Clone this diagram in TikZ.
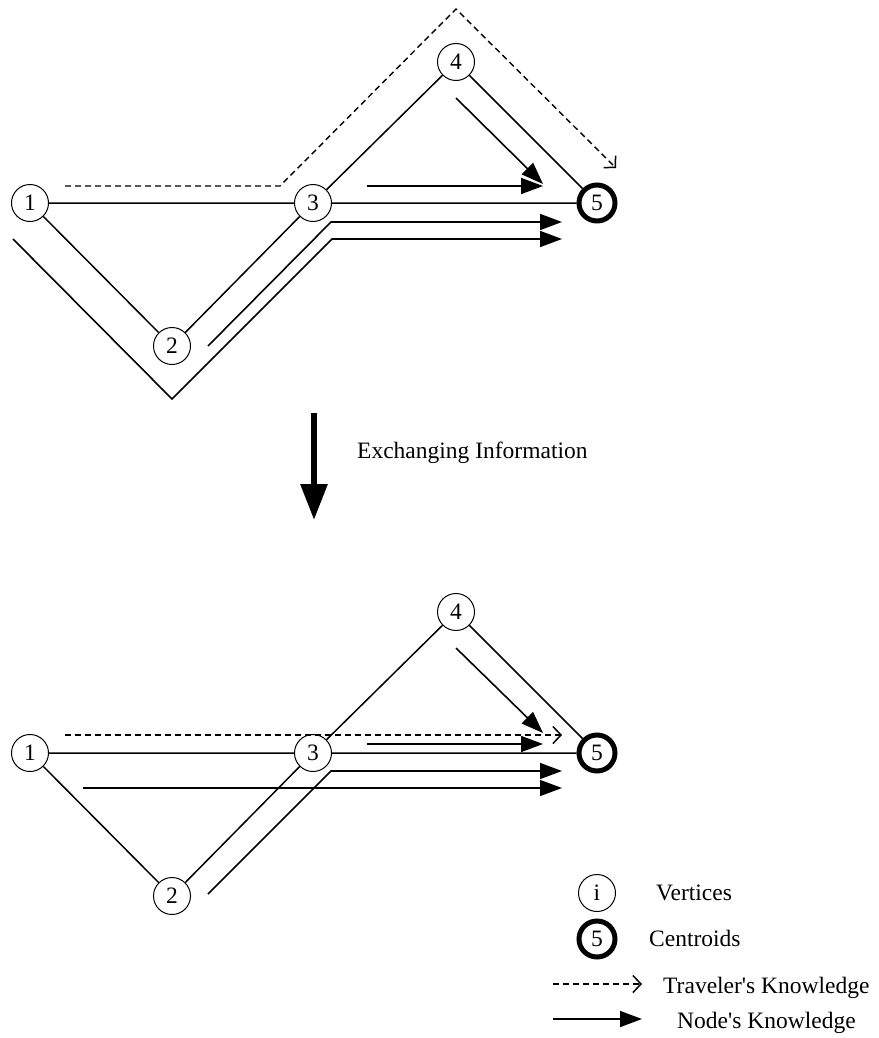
\documentclass[tikz,border=0pt]{standalone}
\usepackage{fontspec}
\setmainfont{Liberation Serif}
\usetikzlibrary{arrows.meta}
\begin{document}
\begin{tikzpicture}[x=1pt,y=-1pt,
  every node/.style={font=\fontsize{23.5}{28}\selectfont},
  vtx/.style={circle,draw,line width=1pt,minimum size=37pt,inner sep=0pt},
  cen/.style={circle,draw,line width=5pt,minimum size=36pt,inner sep=0pt},
  edge/.style={line width=1.5pt},
  trav/.style={line width=1.4pt,dash pattern=on 6pt off 4pt,-{Straight Barb[length=8pt,width=17pt,line width=1.5pt]}},
  know/.style={line width=1.6pt,-{Triangle[length=22pt,width=16pt]}}]
\useasboundingbox (0,0) rectangle (878,1038);
% ---------- top graph ----------
\node[vtx] (t1) at (30,203) {1};
\node[vtx] (t2) at (172,346) {2};
\node[vtx] (t3) at (313,203) {3};
\node[vtx] (t4) at (456,62) {4};
\node[cen] (t5) at (597,203) {5};
\draw[edge] (t1)--(t3) (t1)--(t2) (t2)--(t3) (t3)--(t4) (t4)--(t5) (t3)--(t5);
\coordinate (tr0) at (65,186);
\coordinate (tr1) at (280,186);
\coordinate (tr2) at (456,9);
\coordinate (tr3) at (616,168);
\draw[trav] (tr0)--(tr1)--(tr2)--(tr3);
\coordinate (ta0) at (456,98);
\coordinate (ta1) at (543,184);
\draw[know] (ta0)--(ta1);
\coordinate (tb0) at (367,186);
\coordinate (tb1) at (543,186);
\draw[know] (tb0)--(tb1);
\coordinate (tc0) at (208,346);
\coordinate (tc1) at (331,222);
\coordinate (tc2) at (562,222);
\draw[know] (tc0)--(tc1)--(tc2);
\coordinate (te0) at (13,239);
\coordinate (te1) at (172,399);
\coordinate (te2) at (332,239);
\coordinate (te3) at (562,239);
\draw[know] (te0)--(te1)--(te2)--(te3);
% ---------- exchange arrow ----------
\coordinate (x0) at (314,413);
\coordinate (x1) at (314,520);
\draw[line width=6pt,-{Triangle[length=36pt,width=26pt]}] (x0)--(x1);
\node[anchor=base west,inner sep=0pt] (xl) at (357,458) {Exchanging Information};
% ---------- bottom graph ----------
\node[vtx] (b1) at (30,753) {1};
\node[vtx] (b2) at (172,896) {2};
\node[vtx] (b3) at (313,753) {3};
\node[vtx] (b4) at (456,612) {4};
\node[cen] (b5) at (597,753) {5};
\draw[edge] (b1)--(b3) (b1)--(b2) (b2)--(b3) (b3)--(b4) (b4)--(b5) (b3)--(b5);
\coordinate (br0) at (65,735);
\coordinate (br1) at (562,735);
\draw[trav] (br0)--(br1);
\coordinate (ba0) at (456,648);
\coordinate (ba1) at (543,733);
\draw[know] (ba0)--(ba1);
\coordinate (bb0) at (367,744);
\coordinate (bb1) at (543,744);
\draw[know] (bb0)--(bb1);
\coordinate (bc0) at (208,894);
\coordinate (bc1) at (331,771);
\coordinate (bc2) at (562,771);
\draw[know] (bc0)--(bc1)--(bc2);
\coordinate (bd0) at (83,788);
\coordinate (bd1) at (562,788);
\draw[know] (bd0)--(bd1);
% ---------- legend ----------
\node[vtx] (li) at (597,893) {i};
\node[anchor=base west,inner sep=0pt] (lit) at (656,900) {Vertices};
\node[cen] (lc) at (597,939) {5};
\node[anchor=base west,inner sep=0pt] (lct) at (649,946) {Centroids};
\coordinate (lt0) at (553,984);
\coordinate (lt1) at (642,984);
\draw[trav] (lt0)--(lt1);
\node[anchor=base west,inner sep=0pt] (ltt) at (663,993) {Traveler\textquotesingle s Knowledge};
\coordinate (ln0) at (553,1019);
\coordinate (ln1) at (642,1019);
\draw[know] (ln0)--(ln1);
\node[anchor=base west,inner sep=0pt] (lnt) at (677,1028) {Node\textquotesingle s Knowledge};
\end{tikzpicture}
\end{document}
